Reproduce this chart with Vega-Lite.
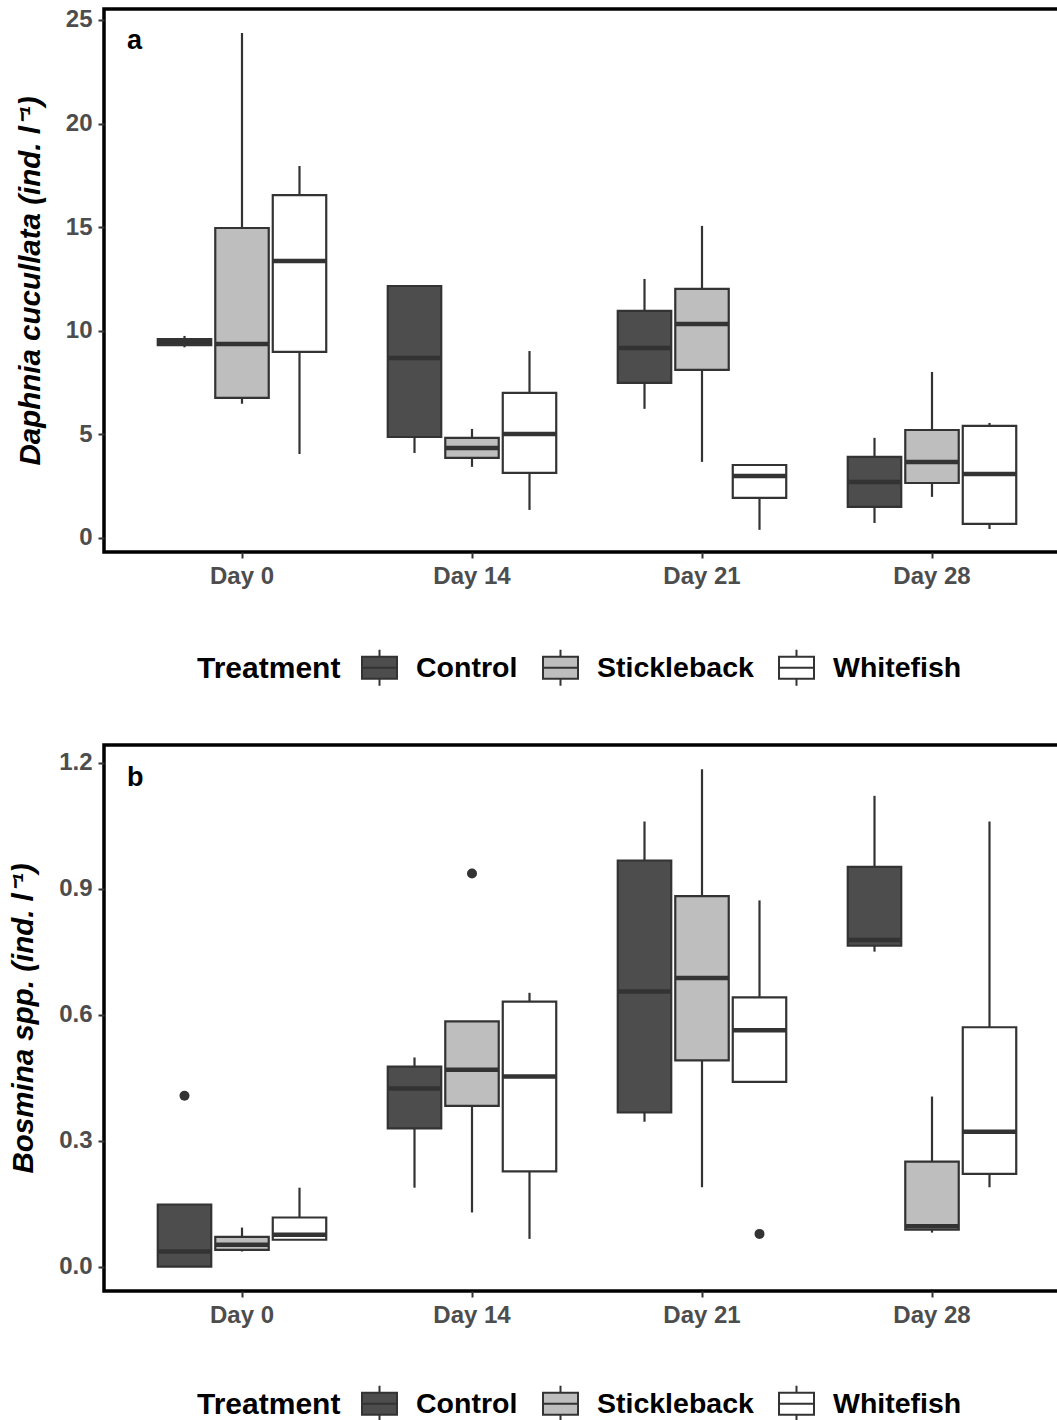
{
  "$schema": "https://vega.github.io/schema/vega-lite/v6.json",
  "padding": {"top": 6, "left": 6, "right": 0, "bottom": 0},
  "background": "white",
  "config": {
    "font": "Liberation Sans",
    "view": {"stroke": "black", "strokeWidth": 3.5},
    "axis": {"domain": false, "grid": false, "tickColor": "#333333", "tickWidth": 2, "tickSize": 6, "labelFont": "Liberation Sans", "labelFontWeight": "bold", "labelColor": "#4D4D4D", "labelFontSize": 24, "titleFont": "Liberation Sans", "titleFontSize": 29.5, "titleColor": "black"},
    "legend": {"titleFont": "Liberation Sans", "labelFont": "Liberation Sans", "titleFontSize": 30, "titleFontWeight": "bold", "titleColor": "black", "labelFontSize": 28.5, "labelFontWeight": "bold", "labelColor": "black", "labelLimit": 0}
  },
  "datasets": {
    "daphnia": [
      {"Day": "Day 0", "Treatment": "Control", "lower": 9.2, "q1": 9.3, "median": 9.45, "q3": 9.6, "upper": 9.75},
      {"Day": "Day 0", "Treatment": "Stickleback", "lower": 6.47, "q1": 6.76, "median": 9.36, "q3": 14.96, "upper": 24.37},
      {"Day": "Day 0", "Treatment": "Whitefish", "lower": 4.05, "q1": 8.98, "median": 13.37, "q3": 16.55, "upper": 17.95},
      {"Day": "Day 14", "Treatment": "Control", "lower": 4.1, "q1": 4.87, "median": 8.69, "q3": 12.16, "upper": 12.16},
      {"Day": "Day 14", "Treatment": "Stickleback", "lower": 3.43, "q1": 3.86, "median": 4.34, "q3": 4.83, "upper": 5.26},
      {"Day": "Day 14", "Treatment": "Whitefish", "lower": 1.35, "q1": 3.14, "median": 5.02, "q3": 7.0, "upper": 9.02},
      {"Day": "Day 21", "Treatment": "Control", "lower": 6.23, "q1": 7.48, "median": 9.17, "q3": 10.96, "upper": 12.5},
      {"Day": "Day 21", "Treatment": "Stickleback", "lower": 3.67, "q1": 8.11, "median": 10.33, "q3": 12.02, "upper": 15.06},
      {"Day": "Day 21", "Treatment": "Whitefish", "lower": 0.39, "q1": 1.93, "median": 2.99, "q3": 3.52, "upper": 3.52},
      {"Day": "Day 28", "Treatment": "Control", "lower": 0.72, "q1": 1.5, "median": 2.7, "q3": 3.91, "upper": 4.83},
      {"Day": "Day 28", "Treatment": "Stickleback", "lower": 1.98, "q1": 2.65, "median": 3.67, "q3": 5.21, "upper": 8.01},
      {"Day": "Day 28", "Treatment": "Whitefish", "lower": 0.43, "q1": 0.68, "median": 3.09, "q3": 5.41, "upper": 5.55}
    ],
    "bosmina": [
      {"Day": "Day 0", "Treatment": "Control", "lower": 0.0, "q1": 0.0, "median": 0.036, "q3": 0.148, "upper": 0.148},
      {"Day": "Day 0", "Treatment": "Stickleback", "lower": 0.036, "q1": 0.04, "median": 0.052, "q3": 0.071, "upper": 0.093},
      {"Day": "Day 0", "Treatment": "Whitefish", "lower": 0.064, "q1": 0.064, "median": 0.076, "q3": 0.117, "upper": 0.188},
      {"Day": "Day 14", "Treatment": "Control", "lower": 0.188, "q1": 0.329, "median": 0.424, "q3": 0.476, "upper": 0.498},
      {"Day": "Day 14", "Treatment": "Stickleback", "lower": 0.129, "q1": 0.383, "median": 0.469, "q3": 0.584, "upper": 0.584},
      {"Day": "Day 14", "Treatment": "Whitefish", "lower": 0.066, "q1": 0.227, "median": 0.453, "q3": 0.631, "upper": 0.652},
      {"Day": "Day 21", "Treatment": "Control", "lower": 0.345, "q1": 0.367, "median": 0.655, "q3": 0.967, "upper": 1.06},
      {"Day": "Day 21", "Treatment": "Stickleback", "lower": 0.189, "q1": 0.491, "median": 0.687, "q3": 0.882, "upper": 1.184},
      {"Day": "Day 21", "Treatment": "Whitefish", "lower": 0.44, "q1": 0.44, "median": 0.563, "q3": 0.641, "upper": 0.872},
      {"Day": "Day 28", "Treatment": "Control", "lower": 0.75, "q1": 0.764, "median": 0.778, "q3": 0.952, "upper": 1.121},
      {"Day": "Day 28", "Treatment": "Stickleback", "lower": 0.081, "q1": 0.088, "median": 0.096, "q3": 0.25, "upper": 0.405},
      {"Day": "Day 28", "Treatment": "Whitefish", "lower": 0.189, "q1": 0.221, "median": 0.321, "q3": 0.57, "upper": 1.06}
    ],
    "bosmina_out": [
      {"Day": "Day 0", "Treatment": "Control", "value": 0.407},
      {"Day": "Day 14", "Treatment": "Stickleback", "value": 0.936},
      {"Day": "Day 21", "Treatment": "Whitefish", "value": 0.078}
    ],
    "label_a": [{"Day": "Day 0", "value": 24.0, "label": "a"}],
    "label_b": [{"Day": "Day 0", "value": 1.164, "label": "b"}]
  },
  "vconcat": [
    {
      "width": 966,
      "height": 543,
      "encoding": {
        "x": {"field": "Day", "type": "nominal", "sort": ["Day 0", "Day 14", "Day 21", "Day 28"], "scale": {"paddingInner": 0, "paddingOuter": 0.1}, "axis": {"title": null, "labelAngle": 0, "labelPadding": 6}}
      },
      "layer": [
        {
          "data": {"name": "daphnia"},
          "mark": {"type": "rule", "stroke": "#333333", "strokeWidth": 2.2},
          "encoding": {
            "xOffset": {"field": "Treatment", "type": "nominal", "scale": {"domain": ["Control", "Stickleback", "Whitefish"], "paddingInner": 0.07, "paddingOuter": 0.535}},
            "y": {"field": "lower", "type": "quantitative", "scale": {"domain": [-0.68, 25.53], "nice": false, "zero": false}, "axis": {"values": [0, 5, 10, 15, 20, 25], "labelPadding": 6, "title": "Daphnia cucullata  (ind. l⁻¹)", "titleFontStyle": "italic", "titleFontWeight": "bold", "titlePadding": 20}},
            "y2": {"field": "upper"}
          }
        },
        {
          "data": {"name": "daphnia"},
          "mark": {"type": "bar", "stroke": "#333333", "strokeWidth": 2.2},
          "encoding": {
            "xOffset": {"field": "Treatment", "type": "nominal"},
            "y": {"field": "q1", "type": "quantitative"},
            "y2": {"field": "q3"},
            "fill": {"field": "Treatment", "type": "nominal", "scale": {"domain": ["Control", "Stickleback", "Whitefish"], "range": ["#4D4D4D", "#BEBEBE", "#FFFFFF"]},
              "legend": {"orient": "none", "direction": "horizontal", "legendX": 93, "legendY": 640, "title": "Treatment", "titleOrient": "left", "titlePadding": 20, "symbolType": "M-1,-0.63H1V0.63H-1Z M-1,0H1 M0,-0.63V-1.03 M0,0.63V1.03", "symbolSize": 1225, "symbolStrokeColor": "#333333", "symbolStrokeWidth": 2, "labelOffset": 18, "columnPadding": 21}}
          }
        },
        {
          "data": {"name": "daphnia"},
          "mark": {"type": "bar", "stroke": "#333333", "strokeWidth": 4.5, "fill": null},
          "encoding": {
            "xOffset": {"field": "Treatment", "type": "nominal"},
            "y": {"field": "median", "type": "quantitative"},
            "y2": {"field": "median"}
          }
        },
        {
          "data": {"name": "label_a"},
          "mark": {"type": "text", "align": "left", "baseline": "middle", "fontSize": 27, "fontWeight": "bold", "color": "black"},
          "encoding": {
            "x": {"field": "Day", "type": "nominal", "bandPosition": 0},
            "y": {"field": "value", "type": "quantitative"},
            "text": {"field": "label"}
          }
        }
      ]
    },
    {
      "width": 966,
      "height": 546,
      "encoding": {
        "x": {"field": "Day", "type": "nominal", "sort": ["Day 0", "Day 14", "Day 21", "Day 28"], "scale": {"paddingInner": 0, "paddingOuter": 0.1}, "axis": {"title": null, "labelAngle": 0, "labelPadding": 6}}
      },
      "layer": [
        {
          "data": {"name": "bosmina"},
          "mark": {"type": "rule", "stroke": "#333333", "strokeWidth": 2.2},
          "encoding": {
            "xOffset": {"field": "Treatment", "type": "nominal", "scale": {"domain": ["Control", "Stickleback", "Whitefish"], "paddingInner": 0.07, "paddingOuter": 0.535}},
            "y": {"field": "lower", "type": "quantitative", "scale": {"domain": [-0.058, 1.242], "nice": false, "zero": false}, "axis": {"values": [0, 0.3, 0.6, 0.9, 1.2], "format": ".1f", "labelPadding": 6, "title": "Bosmina spp.  (ind. l⁻¹)", "titleFontStyle": "italic", "titleFontWeight": "bold", "titlePadding": 20}},
            "y2": {"field": "upper"}
          }
        },
        {
          "data": {"name": "bosmina"},
          "mark": {"type": "bar", "stroke": "#333333", "strokeWidth": 2.2},
          "encoding": {
            "xOffset": {"field": "Treatment", "type": "nominal"},
            "y": {"field": "q1", "type": "quantitative"},
            "y2": {"field": "q3"},
            "fill": {"field": "Treatment", "type": "nominal", "scale": {"domain": ["Control", "Stickleback", "Whitefish"], "range": ["#4D4D4D", "#BEBEBE", "#FFFFFF"]},
              "legend": {"orient": "none", "direction": "horizontal", "legendX": 93, "legendY": 640, "title": "Treatment", "titleOrient": "left", "titlePadding": 20, "symbolType": "M-1,-0.63H1V0.63H-1Z M-1,0H1 M0,-0.63V-1.03 M0,0.63V1.03", "symbolSize": 1225, "symbolStrokeColor": "#333333", "symbolStrokeWidth": 2, "labelOffset": 18, "columnPadding": 21}}
          }
        },
        {
          "data": {"name": "bosmina"},
          "mark": {"type": "bar", "stroke": "#333333", "strokeWidth": 4.5, "fill": null},
          "encoding": {
            "xOffset": {"field": "Treatment", "type": "nominal"},
            "y": {"field": "median", "type": "quantitative"},
            "y2": {"field": "median"}
          }
        },
        {
          "data": {"name": "bosmina_out"},
          "mark": {"type": "point", "filled": true, "color": "#333333", "opacity": 1, "size": 100},
          "encoding": {
            "xOffset": {"field": "Treatment", "type": "nominal"},
            "y": {"field": "value", "type": "quantitative"}
          }
        },
        {
          "data": {"name": "label_b"},
          "mark": {"type": "text", "align": "left", "baseline": "middle", "fontSize": 27, "fontWeight": "bold", "color": "black"},
          "encoding": {
            "x": {"field": "Day", "type": "nominal", "bandPosition": 0},
            "y": {"field": "value", "type": "quantitative"},
            "text": {"field": "label"}
          }
        }
      ]
    }
  ],
  "resolve": {"scale": {"fill": "independent"}},
  "spacing": 51
}
